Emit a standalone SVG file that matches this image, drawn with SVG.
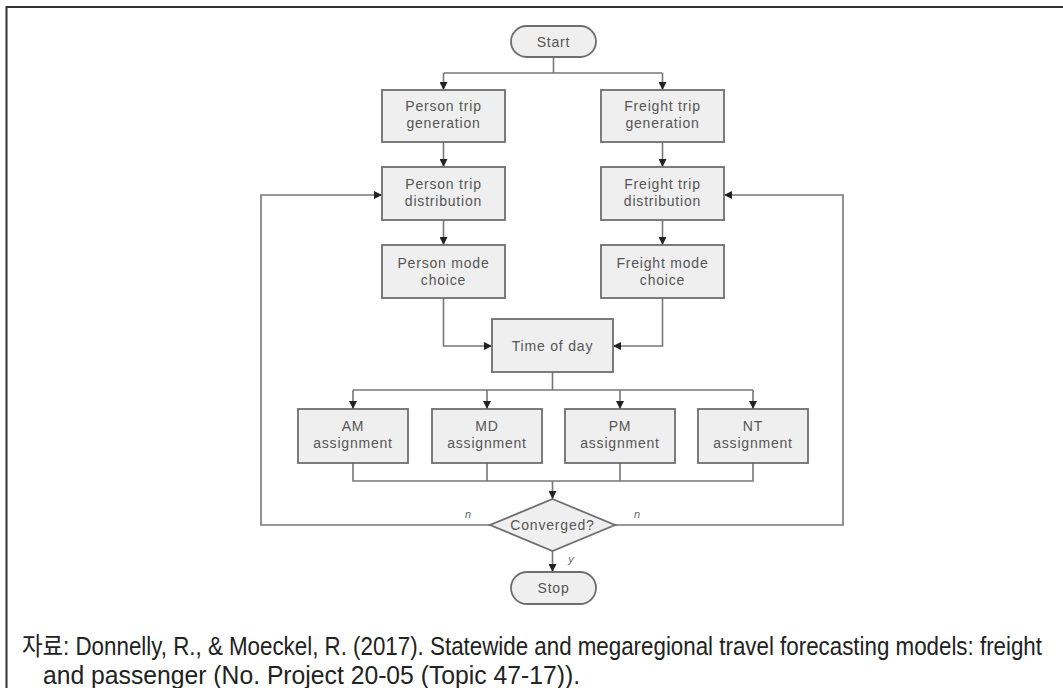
<svg xmlns="http://www.w3.org/2000/svg" width="1063" height="688" viewBox="0 0 1063 688">
<style>
.box{fill:#efefef;stroke:#6e6e6e;stroke-width:1.8}
.lbl{font-family:"Liberation Sans",Arial,sans-serif;font-size:14px;fill:#555;text-anchor:middle;letter-spacing:0.8px}
.yn{font-family:"Liberation Sans",Arial,sans-serif;font-size:11px;font-style:italic;fill:#666;text-anchor:middle}
.ln{fill:none;stroke:#777;stroke-width:1.6}
.foot{font-family:"Liberation Sans","Noto Sans CJK KR",sans-serif;font-size:25px;fill:#222}
</style>
<defs>
<marker id="ah" markerWidth="9" markerHeight="8" refX="8" refY="4" orient="auto" markerUnits="userSpaceOnUse">
<path d="M0,0 L8,4 L0,8 z" fill="#222"/>
</marker>
</defs>
<rect width="1063" height="688" fill="#fff"/>
<path d="M6.5,688 V7 H1063" fill="none" stroke="#333" stroke-width="2"/>

<g id="connectors">
<path class="ln" d="M553.5,57 V73"/>
<path class="ln" d="M443.5,73 H662.5"/>
<path class="ln" d="M443.5,73 V90" marker-end="url(#ah)"/>
<path class="ln" d="M662.5,73 V90" marker-end="url(#ah)"/>
<path class="ln" d="M443.5,142 V167" marker-end="url(#ah)"/>
<path class="ln" d="M662.5,142 V167" marker-end="url(#ah)"/>
<path class="ln" d="M443.5,220 V245" marker-end="url(#ah)"/>
<path class="ln" d="M662.5,220 V245" marker-end="url(#ah)"/>
<path class="ln" d="M443.5,298 V346 H492" marker-end="url(#ah)"/>
<path class="ln" d="M662.5,298 V346 H613" marker-end="url(#ah)"/>
<path class="ln" d="M552.5,372 V390"/>
<path class="ln" d="M353,390 H753"/>
<path class="ln" d="M353,390 V409" marker-end="url(#ah)"/>
<path class="ln" d="M487,390 V409" marker-end="url(#ah)"/>
<path class="ln" d="M620,390 V409" marker-end="url(#ah)"/>
<path class="ln" d="M753,390 V409" marker-end="url(#ah)"/>
<path class="ln" d="M353,463 V481 H753 V463"/>
<path class="ln" d="M487,463 V481"/>
<path class="ln" d="M620,463 V481"/>
<path class="ln" d="M552.5,481 V499" marker-end="url(#ah)"/>
<path class="ln" d="M490,525 H261 V195 H382" marker-end="url(#ah)"/>
<path class="ln" d="M615,525 H843 V195 H724" marker-end="url(#ah)"/>
<path class="ln" d="M552.5,551 V572" marker-end="url(#ah)"/>
<text class="yn" x="468" y="518">n</text>
<text class="yn" x="637" y="518">n</text>
<text class="yn" x="571" y="563">y</text>
</g>

<g id="start">
<rect class="box" x="511" y="26" width="85" height="31" rx="15.5"/>
<text class="lbl" x="553.5" y="46.5">Start</text>
</g>
<g id="person-gen">
<rect class="box" x="382" y="90" width="123" height="52"/>
<text class="lbl" x="443.5" y="111">Person trip</text>
<text class="lbl" x="443.5" y="128">generation</text>
</g>
<g id="freight-gen">
<rect class="box" x="601" y="90" width="123" height="52"/>
<text class="lbl" x="662.5" y="111">Freight trip</text>
<text class="lbl" x="662.5" y="128">generation</text>
</g>
<g id="person-dist">
<rect class="box" x="382" y="167" width="123" height="53"/>
<text class="lbl" x="443.5" y="189">Person trip</text>
<text class="lbl" x="443.5" y="206">distribution</text>
</g>
<g id="freight-dist">
<rect class="box" x="601" y="167" width="123" height="53"/>
<text class="lbl" x="662.5" y="189">Freight trip</text>
<text class="lbl" x="662.5" y="206">distribution</text>
</g>
<g id="person-mode">
<rect class="box" x="382" y="245" width="123" height="53"/>
<text class="lbl" x="443.5" y="268">Person mode</text>
<text class="lbl" x="443.5" y="285">choice</text>
</g>
<g id="freight-mode">
<rect class="box" x="601" y="245" width="123" height="53"/>
<text class="lbl" x="662.5" y="268">Freight mode</text>
<text class="lbl" x="662.5" y="285">choice</text>
</g>
<g id="time-of-day">
<rect class="box" x="492" y="319" width="121" height="53"/>
<text class="lbl" x="552.5" y="351">Time of day</text>
</g>
<g id="am">
<rect class="box" x="298" y="409" width="110" height="54"/>
<text class="lbl" x="353" y="431">AM</text>
<text class="lbl" x="353" y="448">assignment</text>
</g>
<g id="md">
<rect class="box" x="432" y="409" width="110" height="54"/>
<text class="lbl" x="487" y="431">MD</text>
<text class="lbl" x="487" y="448">assignment</text>
</g>
<g id="pm">
<rect class="box" x="565" y="409" width="110" height="54"/>
<text class="lbl" x="620" y="431">PM</text>
<text class="lbl" x="620" y="448">assignment</text>
</g>
<g id="nt">
<rect class="box" x="698" y="409" width="110" height="54"/>
<text class="lbl" x="753" y="431">NT</text>
<text class="lbl" x="753" y="448">assignment</text>
</g>
<g id="converged">
<polygon class="box" points="552.5,499 615,525 552.5,551 490,525"/>
<text class="lbl" x="552.5" y="530">Converged?</text>
</g>
<g id="stop">
<rect class="box" x="511" y="572" width="85" height="32" rx="16"/>
<text class="lbl" x="553.5" y="593">Stop</text>
</g>

<g id="source">
<text class="foot" x="22" y="655" textLength="1020" lengthAdjust="spacingAndGlyphs">자료: Donnelly, R., &amp; Moeckel, R. (2017). Statewide and megaregional travel forecasting models: freight</text>
<text class="foot" x="43" y="684" textLength="537" lengthAdjust="spacingAndGlyphs">and passenger (No. Project 20-05 (Topic 47-17)).</text>
</g>
</svg>
